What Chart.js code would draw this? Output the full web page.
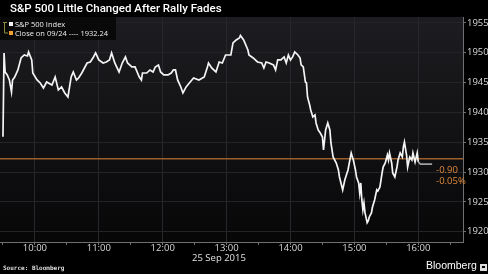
<!DOCTYPE html>
<html>
<head>
<meta charset="utf-8">
<script src="https://cdn.jsdelivr.net/npm/chart.js@4"></script>
<style>
  body { margin: 0; background: #000; width: 488px; height: 274px; overflow: hidden; position: relative; }
  #wrap { position: absolute; left: 0; top: 0; width: 488px; height: 274px; }
  #title { position: absolute; left: 10px; top: 1px; color: #fff; font: 500 11.5px Roboto, sans-serif; white-space: nowrap; }
  #date { position: absolute; left: 192px; top: 251px; width: 52px; text-align: center; color: #e0e0e0; font: 9.5px "Open Sans", sans-serif; white-space: nowrap; }
  #source { position: absolute; left: 3px; top: 264px; color: #ddd; font: bold 6px "DejaVu Sans Mono", monospace; white-space: nowrap; }
  #logo { position: absolute; left: 426px; top: 259px; color: #fff; font: 10.5px "Liberation Sans", sans-serif; white-space: nowrap; }
  #logoicon { position: absolute; left: 480px; top: 264px; width: 7px; height: 7px; background: #ddd; }
  #logoicon:after { content: ""; position: absolute; left: 2px; top: 2px; width: 3px; height: 2px; background: #000; }
</style>
</head>
<body>
<div id="wrap"><canvas id="myChart" width="488" height="274"></canvas></div>
<div id="title">S&amp;P 500 Little Changed After Rally Fades</div>
<div id="date">25 Sep 2015</div>
<div id="source">Source: Bloomberg</div>
<div id="logo">Bloomberg</div>
<div id="logoicon"></div>
<script>
// minutes after 9:30, 25 Sep 2015
var times = [0,1,2,4,6,8,9,11,14,17,20,23,24,27,28,32,35,38,41,46,49,52,55,58,61,64,66,69,71,74,
  79,82,85,87,90,94,97,100,102,105,109,112,115,117,121,124,128,130,131,135,138,141,143,146,148,151,155,158,160,162,
  164,167,169,172,175,179,184,189,192,193,196,200,203,206,209,214,216,219,222,223,226,230,231,235,239,243,245,247,250,254,
  256,258,261,264,266,268,270,272,274,277,279,280,282,284,285,286,288,289,291,293,294,296,298,300,301,303,305,307,308,310,
  313,315,316,319,321,324,327,329,331,332,334,335,336,337,338,339,340,342,343,344,346,347,349,351,352,354,356,357,359,361,
  362,363,365,366,368,370,371,373,375,376,377,379,380,382,384,385,387,389,390,392,403];

var prices = [1935.93,1949.97,1946.78,1946.28,1945.44,1943.43,1945.44,1945.94,1947.12,1949.13,
  1949.63,1949.47,1950.14,1948.8,1946.61,1945.44,1944.94,1944.1,1945.1,1944.6,
  1945.94,1943.76,1944.27,1943.26,1942.59,1945.94,1946.78,1945.44,1945.77,1946.61,
  1948.29,1948.46,1949.3,1949.97,1948.8,1948.29,1948.46,1948.8,1949.97,1948.29,
  1946.78,1948.29,1949.3,1948.29,1947.62,1947.62,1945.94,1945.44,1946.61,1946.61,
  1947.12,1946.78,1947.62,1947.96,1946.78,1946.28,1946.28,1946.61,1947.12,1947.12,
  1945.44,1944.27,1943.26,1944.27,1944.94,1945.77,1945.44,1945.94,1947.62,1948.29,
  1947.45,1946.78,1948.46,1948.29,1949.63,1949.63,1951.65,1952.15,1952.48,1952.89,
  1952.15,1950.47,1949.63,1949.13,1948.46,1948.29,1947.45,1948.46,1948.29,1947.96,
  1947.12,1948.8,1948.8,1949.3,1948.29,1949.63,1948.8,1949.3,1950.14,1949.63,
  1949.13,1947.96,1947.62,1945.1,1944.94,1942.59,1941.25,1940.41,1939.24,1939.57,
  1938.23,1937.06,1936.55,1935.88,1933.7,1937.06,1938.23,1937.06,1934.88,1932.53,
  1931.52,1930.35,1929.17,1927.0,1928.67,1930.35,1933.2,1932.03,1930.35,1929.17,
  1928.17,1926.49,1928.17,1925.32,1923.64,1924.81,1923.14,1921.5,1921.8,1922.47,
  1923.14,1924.14,1925.32,1927.0,1926.8,1927.5,1929.84,1930.85,1931.52,1932.86,
  1932.03,1933.2,1931.52,1929.84,1929.17,1930.85,1932.03,1933.2,1932.53,1934.2,
  1935.04,1932.86,1930.85,1932.53,1932.03,1933.2,1931.69,1933.2,1931.69,1931.34,
  1931.34];

var prevClose = 1932.24;
var prevCloseLabel = 'Close on 09/24 ---- 1932.24';
var seriesLabel = 'S&P 500 Index';

var xTicks = [0,30,60,90,120,150,180,210,240,270,300,330,360,390,420];
var xTickLabels = {30:'10:00', 90:'11:00', 150:'12:00', 210:'13:00', 270:'14:00', 330:'15:00', 390:'16:00'};
var yTicks = [1920,1925,1930,1935,1940,1945,1950,1955];

var closeMinute = 390;

function getData() {
  var pts = [];
  for (var i = 0; i < times.length; i++) pts.push({x: times[i], y: prices[i]});
  return pts;
}

var bgPlugin = {
  id: 'bg',
  beforeDraw: function(chart) {
    var a = chart.chartArea, c = chart.ctx;
    var g = c.createLinearGradient(0, a.top, 0, a.bottom);
    g.addColorStop(0, '#1d1d21');
    g.addColorStop(1, '#070708');
    c.save();
    c.fillStyle = g;
    c.fillRect(a.left, a.top, a.right - a.left, a.bottom - a.top);
    c.restore();
  }
};

var notePlugin = {
  id: 'notes',
  afterDraw: function(chart) {
    var c = chart.ctx, a = chart.chartArea;
    var xs = chart.scales.x, ys = chart.scales.y;
    c.save();
    // legend box
    c.fillStyle = 'rgba(8,8,8,0.9)';
    c.fillRect(a.left, a.top, 116, 23);
    c.strokeStyle = '#8a8a3a';
    c.lineWidth = 1;
    c.beginPath();
    c.moveTo(4.5, a.top + 6); c.lineTo(4.5, a.top + 16); c.lineTo(8, a.top + 16);
    c.moveTo(3, a.top + 5.5); c.lineTo(7, a.top + 5.5);
    c.stroke();
    c.fillStyle = '#f2f2f2';
    c.fillRect(9, a.top + 5, 4, 4);
    c.fillStyle = '#f0a030';
    c.fillRect(9, a.top + 14, 4, 4);
    c.fillStyle = '#eeeeee';
    c.font = '7.5px "Open Sans", sans-serif';
    c.textBaseline = 'middle';
    c.fillText(seriesLabel, 15, a.top + 7.5);
    c.fillText(prevCloseLabel, 15, a.top + 16.5);
    // change notes
    var last = prices[prices.length - 1];
    var chg = last - prevClose;
    var pct = chg / prevClose * 100;
    var yl = ys.getPixelForValue(last);
    var xl = xs.getPixelForValue(times[times.length - 1]) + 4;
    c.fillStyle = '#e0893a';
    c.font = '9.5px "Open Sans", sans-serif';
    c.fillText(chg.toFixed(2), xl, yl + 6);
    c.fillText(pct.toFixed(2) + '%', xl, yl + 17);
    c.restore();
  }
};

function getChart() {
  var ctx = document.getElementById('myChart').getContext('2d');
  var myChart = new Chart(ctx, {
    type: 'line',
    data: {
      datasets: [{
        label: seriesLabel,
        data: getData(),
        borderColor: '#f4f4f4',
        borderWidth: 1.7,
        pointRadius: 0,
        tension: 0,
        segment: {
          borderColor: function(c) { return c.p0.parsed.x >= closeMinute ? '#a0a0a0' : '#f4f4f4'; }
        }
      },
      {
        label: prevCloseLabel,
        data: [{x: -2.8, y: prevClose}, {x: 432, y: prevClose}],
        borderColor: '#9c5e2a',
        borderWidth: 1.4,
        pointRadius: 0
      }]
    },
    options: {
      responsive: false,
      animation: false,
      layout: {padding: {top: 17, left: 0, right: 0, bottom: 0}},
      plugins: {legend: {display: false}, tooltip: {enabled: false}},
      scales: {
        x: {
          type: 'linear',
          min: -2.8,
          max: 432,
          afterBuildTicks: function(s) { s.ticks = xTicks.map(function(v) { return {value: v}; }); },
          afterFit: function(s) { s.height = 32; },
          ticks: {
            autoSkip: false,
            maxRotation: 0,
            padding: -2,
            color: '#d8d8d8',
            font: {size: 9.5, family: 'Open Sans'},
            callback: function(v) { return xTickLabels[v] || ''; }
          },
          grid: {
            color: function(c) { return (c.tick && xTickLabels[c.tick.value]) ? '#28282c' : 'rgba(0,0,0,0)'; },
            tickColor: '#707070',
            tickLength: 3
          },
          border: {color: '#707070'}
        },
        y: {
          position: 'right',
          min: 1918.27,
          max: 1956.0,
          afterBuildTicks: function(s) { s.ticks = yTicks.map(function(v) { return {value: v}; }); },
          afterFit: function(s) { s.width = 25; },
          ticks: {
            padding: 1,
            color: '#d8d8d8',
            font: {size: 9.5, family: 'Open Sans'},
            callback: function(v) { return String(v); }
          },
          grid: {color: '#242428', tickColor: '#707070', tickLength: 3},
          border: {color: '#707070'}
        }
      }
    },
    plugins: [bgPlugin, notePlugin]
  });
}

getChart();
</script>
</body>
</html>
